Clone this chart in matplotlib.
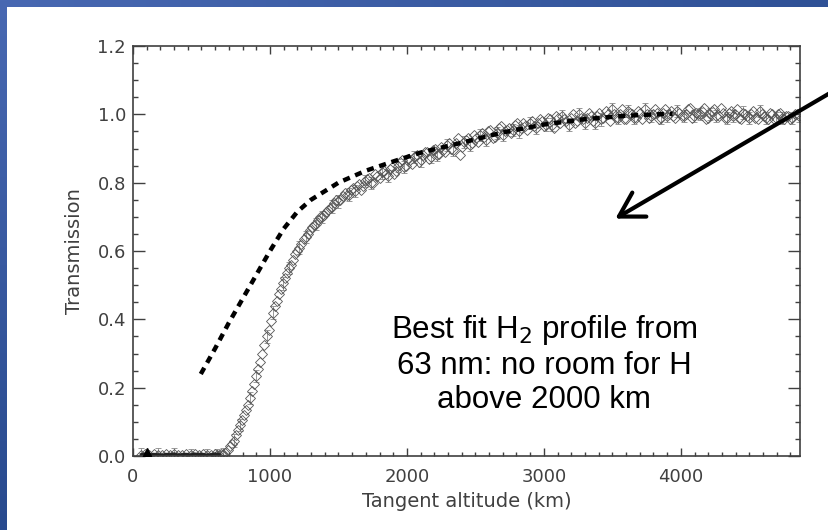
import numpy as np
import matplotlib
matplotlib.use("Agg")
import matplotlib.pyplot as plt
from matplotlib.ticker import MultipleLocator, FormatStrFormatter

# occultation transmission vs tangent altitude, two interleaved scans
alt_km = [60, 90, 120, 150, 180, 210, 240, 270, 300, 330,
          360, 390, 420, 450, 480, 510, 540, 570, 600, 630,
          660, 690, 720, 750, 780, 810, 840, 870, 900, 930,
          960, 990, 1020, 1050, 1080, 1110, 1140, 1170, 1200, 1230,
          1260, 1290, 1320, 1350, 1380, 1410, 1440, 1470, 1500, 1530,
          1560, 1590, 1620, 1650, 1680, 1710, 1740, 1770, 1800, 1830,
          1860, 1890, 1920, 1950, 1980, 2010, 2040, 2070, 2100, 2130,
          2160, 2190, 2220, 2250, 2280, 2310, 2340, 2370, 2400, 2430,
          2460, 2490, 2520, 2550, 2580, 2610, 2640, 2670, 2700, 2730,
          2760, 2790, 2820, 2850, 2880, 2910, 2940, 2970, 3000, 3030,
          3060, 3090, 3120, 3150, 3180, 3210, 3240, 3270, 3300, 3330,
          3360, 3390, 3420, 3450, 3480, 3510, 3540, 3570, 3600, 3630,
          3660, 3690, 3720, 3750, 3780, 3810, 3840, 3870, 3900, 3930,
          3960, 3990, 4020, 4050, 4080, 4110, 4140, 4170, 4200, 4230,
          4260, 4290, 4320, 4350, 4380, 4410, 4440, 4470, 4500, 4530,
          4560, 4590, 4620, 4650, 4680, 4710, 4740, 4770, 4800, 4830,
          4860]
trans = [0.004, 0.006, 0.003, 0.005, 0.004, 0.002, 0.005, 0.004, 0.006, 0.003,
         0.004, 0.005, 0.003, 0.006, 0.004, 0.005, 0.003, 0.004, 0.006, 0.004,
         0.005, 0.018, 0.035, 0.062, 0.090, 0.120, 0.150, 0.190, 0.235, 0.275,
         0.325, 0.370, 0.420, 0.455, 0.490, 0.520, 0.550, 0.575, 0.600, 0.620,
         0.640, 0.660, 0.675, 0.690, 0.700, 0.715, 0.725, 0.740, 0.745, 0.760,
         0.765, 0.780, 0.775, 0.795, 0.790, 0.810, 0.800, 0.825, 0.815, 0.835,
         0.820, 0.845, 0.835, 0.860, 0.845, 0.870, 0.855, 0.880, 0.865, 0.890,
         0.870, 0.895, 0.880, 0.905, 0.890, 0.915, 0.895, 0.930, 0.905, 0.925,
         0.910, 0.940, 0.920, 0.945, 0.925, 0.955, 0.935, 0.960, 0.940, 0.955,
         0.945, 0.970, 0.950, 0.975, 0.955, 0.980, 0.960, 0.985, 0.965, 0.990,
         0.970, 0.995, 0.975, 0.985, 0.970, 1.000, 0.980, 0.990, 0.975, 1.005,
         0.980, 0.995, 0.985, 1.010, 0.980, 1.000, 0.990, 1.015, 0.985, 1.005,
         0.990, 1.010, 0.985, 1.000, 0.995, 1.015, 0.985, 1.005, 0.995, 1.010,
         0.990, 1.005, 0.995, 1.015, 0.990, 1.005, 1.000, 1.020, 0.990, 1.010,
         0.995, 1.020, 0.990, 1.005, 0.995, 1.015, 0.985, 1.000, 0.990, 1.010,
         0.985, 1.000, 0.990, 1.005, 0.985, 1.000, 0.990, 0.995, 0.985, 1.000,
         0.995]

alt2_km = [615, 645, 675, 705, 735, 765, 795, 825, 855, 885,
           915, 945, 975, 1005, 1035, 1065, 1095, 1125, 1155, 1185,
           1215, 1245, 1275, 1305, 1335, 1365, 1395, 1425, 1455, 1485,
           1515, 1545, 1575, 1605, 1635, 1665, 1695, 1725, 1755, 1785,
           1815, 1845, 1875, 1905, 1935, 1965, 1995, 2025, 2055, 2085,
           2115, 2145, 2175, 2205, 2235, 2265, 2295, 2325, 2355, 2385,
           2415, 2445, 2475, 2505, 2535, 2565, 2595, 2625, 2655, 2685,
           2715, 2745, 2775, 2805, 2835, 2865, 2895, 2925, 2955, 2985,
           3015, 3045, 3075, 3105, 3135, 3165, 3195, 3225, 3255, 3285,
           3315, 3345, 3375, 3405, 3435, 3465, 3495, 3525, 3555, 3585,
           3615, 3645, 3675, 3705, 3735, 3765, 3795, 3825, 3855, 3885,
           3915, 3945, 3975, 4005, 4035, 4065, 4095, 4125, 4155, 4185,
           4215, 4245, 4275, 4305, 4335, 4365, 4395, 4425, 4455, 4485,
           4515, 4545, 4575, 4605, 4635, 4665, 4695, 4725, 4755, 4785,
           4815, 4845]
trans2 = [0.003, 0.006, 0.010, 0.028, 0.045, 0.075, 0.105, 0.135, 0.170, 0.210,
          0.255, 0.300, 0.350, 0.395, 0.440, 0.475, 0.505, 0.535, 0.560, 0.590,
          0.610, 0.635, 0.650, 0.670, 0.680, 0.700, 0.705, 0.720, 0.730, 0.750,
          0.750, 0.770, 0.765, 0.785, 0.790, 0.780, 0.805, 0.815, 0.800, 0.820,
          0.830, 0.825, 0.840, 0.825, 0.850, 0.865, 0.850, 0.865, 0.875, 0.860,
          0.880, 0.890, 0.875, 0.900, 0.885, 0.895, 0.910, 0.900, 0.915, 0.880,
          0.920, 0.930, 0.915, 0.930, 0.940, 0.935, 0.950, 0.930, 0.945, 0.965,
          0.950, 0.960, 0.955, 0.975, 0.960, 0.965, 0.975, 0.965, 0.975, 0.980,
          0.970, 0.985, 0.960, 0.990, 0.995, 0.980, 0.990, 0.975, 1.000, 0.985,
          0.990, 0.995, 0.975, 1.005, 0.990, 1.000, 1.015, 0.990, 1.000, 0.985,
          1.010, 1.000, 0.990, 1.005, 1.015, 0.990, 1.000, 1.005, 0.990, 1.015,
          1.000, 0.995, 1.010, 0.995, 1.000, 1.020, 0.995, 1.000, 1.010, 0.985,
          1.000, 1.015, 0.995, 1.005, 0.990, 1.010, 1.000, 0.990, 1.005, 0.995,
          1.000, 0.990, 1.010, 0.995, 0.985, 1.000, 0.990, 1.005, 0.985, 0.995,
          0.990, 1.000]
trans_err = 0.018

# first point of the scan
first_km = [100]
first_t = [0.008]

# best fit H2 model
fit_km = [495, 600, 700, 800, 900, 1000, 1100, 1200, 1300, 1400,
          1500, 1700, 1900, 2100, 2400, 2700, 3000, 3300, 3600, 3940]
fit_t = [0.24, 0.315, 0.39, 0.46, 0.53, 0.60, 0.665, 0.715, 0.75, 0.775,
         0.80, 0.835, 0.862, 0.888, 0.917, 0.947, 0.97, 0.986, 0.996, 1.002]

W, H = 829, 530
fig = plt.figure(figsize=(W / 100, H / 100), dpi=100)
fig.patch.set_facecolor("white")

# slide frame: blue strips along the left and top edges
grad = np.linspace(0, 1, 256)
cm = matplotlib.colors.LinearSegmentedColormap
top = fig.add_axes([0, 1 - 7 / H, 1, 7 / H])
top.imshow(grad[None, :], aspect="auto", cmap=cm.from_list("t", ["#4868b2", "#2f5196"]))
top.axis("off")
left = fig.add_axes([0, 0, 7 / W, 1])
left.imshow(grad[:, None], aspect="auto", cmap=cm.from_list("l", ["#4868b2", "#284a8e"]))
left.axis("off")

ax = fig.add_axes([133 / W, 1 - 456 / H, (800 - 133) / W, (456 - 46) / H])
grey = "#404040"

for xs, ys in [(alt_km, trans), (alt2_km, trans2)]:
    ax.errorbar(xs, ys, yerr=trans_err, fmt="D", ms=5, mfc="none",
                mec="#555555", mew=0.6, ecolor="#888888", elinewidth=0.6,
                capsize=2.5, capthick=0.6, errorevery=4, zorder=2)
# the flat part at the bottom reads as a solid dark band
ax.plot(alt_km[:20], trans[:20], color="#222222", lw=2.2, zorder=2.5)
ax.plot(first_km, first_t, "^", color="black", ms=7, zorder=3)
ax.plot(fit_km, fit_t, color="black", lw=3.2, linestyle=(0, (1.6, 1.3)),
        dash_capstyle="butt", zorder=4)

ax.set_xlim(0, 4870)
ax.set_ylim(0, 1.2)
ax.xaxis.set_major_locator(MultipleLocator(1000))
ax.xaxis.set_minor_locator(MultipleLocator(100))
ax.yaxis.set_major_locator(MultipleLocator(0.2))
ax.yaxis.set_minor_locator(MultipleLocator(0.05))
ax.xaxis.set_major_formatter(FormatStrFormatter("%d"))
ax.yaxis.set_major_formatter(FormatStrFormatter("%.1f"))

ax.tick_params(which="both", direction="in", top=True, right=True,
               color=grey, width=1.0, labelcolor=grey, labelsize=13)
ax.tick_params(axis="x", which="major", length=5.8, pad=9)
ax.tick_params(axis="x", which="minor", length=2.9)
ax.tick_params(axis="y", which="major", length=8.6, pad=5)
ax.tick_params(axis="y", which="minor", length=3.6)
for s in ax.spines.values():
    s.set_color(grey)
    s.set_linewidth(1.2)

ax.set_xlabel("Tangent altitude (km)", color=grey, fontsize=14, labelpad=4)
ax.set_ylabel("Transmission", color=grey, fontsize=14, labelpad=10)

fig.text(544 / W, 1 - 364 / H,
         "Best fit H$_2$ profile from\n63 nm: no room for H\nabove 2000 km",
         ha="center", va="center", fontsize=22.5, family="Liberation Sans",
         linespacing=1.18, color="black")

# pointer to the fit curve
fig.add_artist(matplotlib.patches.FancyArrowPatch(
    (842, H - 86), (613, H - 220), transform=None,
    arrowstyle="->,head_length=8.5,head_width=5", lw=3, color="black",
    mutation_scale=2, zorder=10))

fig.savefig("out.png", dpi=100)
